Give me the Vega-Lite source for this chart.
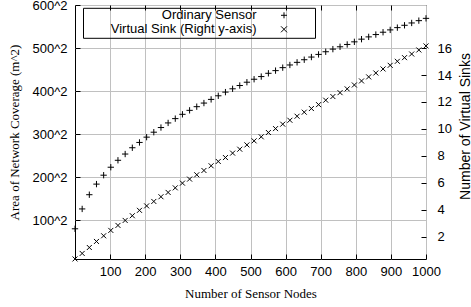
{
  "$schema": "https://vega.github.io/schema/vega-lite/v6.json",
  "width": 351,
  "height": 254,
  "autosize": {"type": "none"},
  "padding": {"left": 75, "top": 5, "right": 45, "bottom": 48},
  "background": "white",
  "config": {
    "view": {"stroke": "black", "strokeWidth": 1},
    "font": "Liberation Sans",
    "axis": {
      "labelFont": "Liberation Sans",
      "labelFontSize": 13,
      "labelColor": "black",
      "labelOverlap": false,
      "labelFlush": false,
      "labelBound": false,
      "tickColor": "black",
      "tickWidth": 1,
      "titleColor": "black",
      "titleFontWeight": "normal",
      "gridColor": "#c0c0c0",
      "gridWidth": 1,
      "gridOpacity": 1,
      "domain": false
    }
  },
  "data": {
    "values": [
      {"n": 0, "area": 80.6, "sinks": 0.34},
      {"n": 20.4, "area": 126.7, "sinks": 0.75},
      {"n": 40.8, "area": 159.7, "sinks": 1.19},
      {"n": 61.2, "area": 184.3, "sinks": 1.64},
      {"n": 81.6, "area": 205, "sinks": 2.06},
      {"n": 102, "area": 223.5, "sinks": 2.46},
      {"n": 122.4, "area": 239.6, "sinks": 2.83},
      {"n": 142.9, "area": 254.1, "sinks": 3.2},
      {"n": 163.3, "area": 268.7, "sinks": 3.55},
      {"n": 183.7, "area": 281, "sinks": 3.95},
      {"n": 204.1, "area": 293.3, "sinks": 4.28},
      {"n": 224.5, "area": 304.8, "sinks": 4.61},
      {"n": 244.9, "area": 315.6, "sinks": 4.96},
      {"n": 265.3, "area": 326.3, "sinks": 5.28},
      {"n": 285.7, "area": 336.3, "sinks": 5.62},
      {"n": 306.1, "area": 346.3, "sinks": 5.97},
      {"n": 326.5, "area": 355.5, "sinks": 6.27},
      {"n": 346.9, "area": 364, "sinks": 6.59},
      {"n": 367.3, "area": 372.4, "sinks": 6.91},
      {"n": 387.8, "area": 380.9, "sinks": 7.26},
      {"n": 408.2, "area": 389.3, "sinks": 7.58},
      {"n": 428.6, "area": 397.8, "sinks": 7.87},
      {"n": 449, "area": 405.5, "sinks": 8.2},
      {"n": 469.4, "area": 413.1, "sinks": 8.49},
      {"n": 489.8, "area": 420.8, "sinks": 8.81},
      {"n": 510.2, "area": 427.7, "sinks": 9.11},
      {"n": 530.6, "area": 433.9, "sinks": 9.41},
      {"n": 551, "area": 441.5, "sinks": 9.73},
      {"n": 571.4, "area": 447.7, "sinks": 10.02},
      {"n": 591.8, "area": 454.6, "sinks": 10.35},
      {"n": 612.2, "area": 460.8, "sinks": 10.64},
      {"n": 632.7, "area": 466.9, "sinks": 10.94},
      {"n": 653.1, "area": 473, "sinks": 11.24},
      {"n": 673.5, "area": 479.2, "sinks": 11.51},
      {"n": 693.9, "area": 485.3, "sinks": 11.8},
      {"n": 714.3, "area": 491.5, "sinks": 12.13},
      {"n": 734.7, "area": 497.6, "sinks": 12.4},
      {"n": 755.1, "area": 503, "sinks": 12.69},
      {"n": 775.5, "area": 508.4, "sinks": 12.97},
      {"n": 795.9, "area": 514.5, "sinks": 13.26},
      {"n": 816.3, "area": 520.7, "sinks": 13.56},
      {"n": 836.7, "area": 526, "sinks": 13.86},
      {"n": 857.1, "area": 531.4, "sinks": 14.15},
      {"n": 877.6, "area": 536.8, "sinks": 14.45},
      {"n": 898, "area": 542.2, "sinks": 14.72},
      {"n": 918.4, "area": 547.5, "sinks": 15.02},
      {"n": 938.8, "area": 552.9, "sinks": 15.29},
      {"n": 959.2, "area": 558.3, "sinks": 15.56},
      {"n": 979.6, "area": 563.7, "sinks": 15.86},
      {"n": 1000, "area": 569, "sinks": 16.16}
    ]
  },
  "layer": [
    {
      "mark": {"type": "point", "filled": false, "color": "black", "strokeWidth": 1, "opacity": 1, "size": 40, "clip": false},
      "encoding": {
        "x": {
          "field": "n", "type": "quantitative",
          "scale": {"domain": [0, 1000], "nice": false, "zero": false},
          "axis": {
            "orient": "bottom",
            "values": [100, 200, 300, 400, 500, 600, 700, 800, 900, 1000],
            "format": "d",
            "tickSize": -5,
            "labelPadding": 11,
            "grid": true,
            "title": "Number of Sensor Nodes",
            "titleFont": "Liberation Serif",
            "titleFontSize": 13,
            "titleBaseline": "alphabetic",
            "titleY": 38.5
          }
        },
        "y": {
          "field": "area", "type": "quantitative",
          "scale": {"domain": [10.5, 600], "nice": false, "zero": false},
          "axis": {
            "orient": "left",
            "values": [100, 200, 300, 400, 500, 600],
            "labelExpr": "datum.value + '^2'",
            "tickSize": -5,
            "labelPadding": 13,
            "grid": true,
            "title": "Area of Network Coverage (m^2)",
            "titleFont": "Liberation Serif",
            "titleFontSize": 13,
            "titleAngle": -90,
            "titleBaseline": "alphabetic",
            "titleX": -57
          }
        },
        "shape": {
          "datum": "Ordinary Sensor",
          "scale": {
            "domain": ["Ordinary Sensor", "Virtual Sink (Right y-axis)"],
            "range": ["M-1,0L1,0M0,-1L0,1", "M-1,-1L1,1M-1,1L1,-1"]
          },
          "legend": {
            "orient": "none",
            "legendX": 8,
            "legendY": 2.8,
            "title": ".",
            "titleColor": "transparent",
            "titleOrient": "right",
            "titlePadding": 21,
            "titleFontSize": 13,
            "labelAlign": "right",
            "labelOffset": -34,
            "symbolOffset": 193.5,
            "labelFont": "Liberation Sans",
            "labelFontSize": 13,
            "labelColor": "black",
            "labelLimit": 400,
            "padding": 1,
            "rowPadding": -2,
            "strokeColor": "black",
            "symbolSize": 36,
            "symbolStrokeColor": "black",
            "symbolFillColor": "transparent",
            "symbolStrokeWidth": 1,
            "encode": {"legend": {"update": {"strokeDash": {"value": [1, 2]}}}}
          }
        }
      }
    },
    {
      "mark": {"type": "point", "filled": false, "color": "black", "strokeWidth": 1, "opacity": 1, "size": 25, "clip": false},
      "encoding": {
        "x": {
          "field": "n", "type": "quantitative",
          "axis": {
            "orient": "top",
            "values": [100, 200, 300, 400, 500, 600, 700, 800, 900],
            "labels": false,
            "tickSize": -5,
            "grid": false,
            "title": null
          }
        },
        "y": {
          "field": "sinks", "type": "quantitative",
          "scale": {"domain": [0.336, 19.2], "nice": false, "zero": false},
          "axis": {
            "orient": "right",
            "values": [2, 4, 6, 8, 10, 12, 14, 16],
            "tickSize": -5,
            "labelPadding": 16,
            "grid": false,
            "title": "Number of Virtual Sinks",
            "titleFont": "Liberation Sans",
            "titleFontSize": 14,
            "titleAngle": -90,
            "titleBaseline": "alphabetic",
            "titleX": 43,
            "titleY": 121
          }
        },
        "shape": {"datum": "Virtual Sink (Right y-axis)"}
      }
    }
  ],
  "resolve": {"scale": {"y": "independent"}, "axis": {"x": "independent"}}
}
